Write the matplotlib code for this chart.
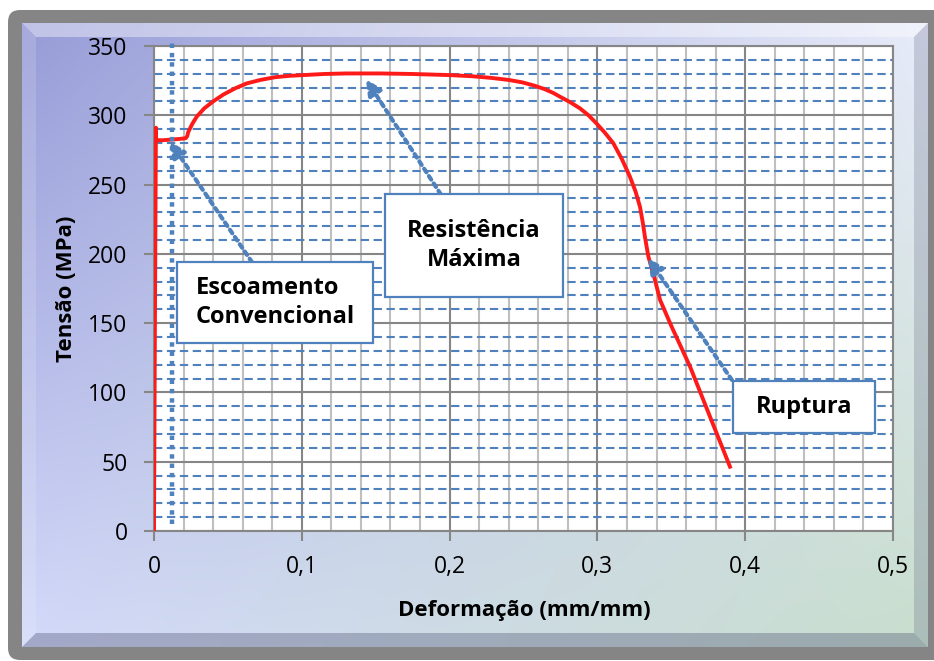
import numpy as np
import matplotlib
matplotlib.use("Agg")
import matplotlib.pyplot as plt
from matplotlib.patches import FancyBboxPatch, Rectangle, Polygon
from matplotlib.ticker import MultipleLocator

# ---------------- data ----------------
strain = [0.0, 0.0006, 0.0013, 0.0014, 0.0018, 0.006, 0.012, 0.018, 0.0215, 0.0225,
          0.0232, 0.026, 0.0289, 0.034, 0.040, 0.047, 0.055, 0.0627, 0.072, 0.082,
          0.092, 0.101, 0.115, 0.130, 0.153, 0.175, 0.200, 0.215, 0.228, 0.240,
          0.249, 0.257, 0.264, 0.270, 0.2747, 0.2815, 0.2882, 0.294, 0.2995, 0.305,
          0.3108, 0.3165, 0.322, 0.3258, 0.3288, 0.3308, 0.3322, 0.3335, 0.3345, 0.3385,
          0.3424, 0.350, 0.3627, 0.376, 0.3897]
stress = [0, 145, 291, 284, 282, 282, 282.5, 283, 283.5, 285,
          288, 294, 299, 305, 310, 315, 319.5, 323, 325.5, 327.5,
          328.5, 329, 329.8, 330.2, 330.2, 329.8, 329, 328.2, 327, 325.5,
          323.8, 321.5, 319, 316.2, 313.4, 309.5, 305, 300, 294, 287.5,
          279.8, 268.5, 255.7, 245, 234, 222, 212, 204, 198, 183,
          166.7, 148, 118.6, 83, 46.4]

xticks = [0, 0.1, 0.2, 0.3, 0.4, 0.5]
xtick_labels = ["0", "0,1", "0,2", "0,3", "0,4", "0,5"]
yticks = [0, 50, 100, 150, 200, 250, 300, 350]
ytick_labels = ["0", "50", "100", "150", "200", "250", "300", "350"]

xlabel = "Deformação (mm/mm)"
ylabel = "Tensão (MPa)"

# annotation texts
lbl_escoamento = "Escoamento\nConvencional"
lbl_resistencia = "Resistência\nMáxima"
lbl_ruptura = "Ruptura"

# ---------------- style ----------------
FONT = ["Open Sans", "DejaVu Sans"]
plt.rcParams["font.family"] = FONT
BLUE = "#4f81bd"
GRAY = "#868686"
LGRAY = "#bfbfbf"

W, H = 934, 661
fig = plt.figure(figsize=(W / 100, H / 100), dpi=100)
fig.patch.set_facecolor("white")

# background panel
bg = fig.add_axes([0, 0, 1, 1], zorder=-10)
bg.axis("off")
bg.add_patch(FancyBboxPatch((8, 10), 940, 650,
                            boxstyle="round,pad=0,rounding_size=12",
                            fc="#858585", ec="none", zorder=1))
L, R, T, B = 22, 928, 23, 647
ny, nx = B - T, R - L
u = np.linspace(0, 1, nx)[None, :, None]
v = np.linspace(0, 1, ny)[:, None, None]
TL = np.array([150, 155, 215]) / 255
TR = np.array([232, 236, 250]) / 255
BL = np.array([212, 218, 250]) / 255
BR = np.array([200, 222, 205]) / 255
img = (1 - u) * (1 - v) * TL + u * (1 - v) * TR + (1 - u) * v * BL + u * v * BR
bg.imshow(img, extent=(L, R, B, T), aspect="auto", interpolation="bilinear",
          zorder=2)
b = 14
bg.add_patch(Polygon([(L, T), (R, T), (R - b, T + b), (L + b, T + b)],
                     closed=True, fc="white", ec="none", alpha=0.40, zorder=3))
bg.add_patch(Polygon([(L, B), (R, B), (R - b, B - b), (L + b, B - b)],
                     closed=True, fc="#4a4f70", ec="none", alpha=0.35, zorder=3))
bg.add_patch(Polygon([(L, T), (L + b, T + b), (L + b, B - b), (L, B)],
                     closed=True, fc="white", ec="none", alpha=0.15, zorder=3))
bg.add_patch(Polygon([(R, T), (R - b, T + b), (R - b, B - b), (R, B)],
                     closed=True, fc="#4a4f70", ec="none", alpha=0.22, zorder=3))
bg.set_xlim(0, W)
bg.set_ylim(H, 0)

# main axes
x0, x1, y0, y1 = 154, 893, 46, 531
ax = fig.add_axes([x0 / W, (H - y1) / H, (x1 - x0) / W, (y1 - y0) / H], zorder=1)
ax.set_facecolor("white")
ax.set_xlim(0, 0.5)
ax.set_ylim(0, 350)
ax.set_xticks(xticks, labels=xtick_labels)
ax.set_yticks(yticks, labels=ytick_labels)
ax.xaxis.set_minor_locator(MultipleLocator(0.02))
ax.yaxis.set_minor_locator(MultipleLocator(10))
ax.tick_params(which="major", direction="out", length=7, width=1.5, color=GRAY,
               labelsize=16.5, labelcolor="black")
ax.tick_params(axis="y", which="major", pad=12)
ax.tick_params(axis="x", which="major", pad=10)
ax.tick_params(which="minor", length=0)
for s in ax.spines.values():
    s.set_color(GRAY)
    s.set_linewidth(1.5)
ax.set_axisbelow(True)
ax.grid(which="major", axis="both", color=GRAY, lw=1.5)
ax.grid(which="minor", axis="x", color=LGRAY, lw=1.5)
ax.grid(which="minor", axis="y", color=BLUE, lw=1.5, ls=(0, (4, 2.2)))

# curve
ax.plot(strain, stress, color="#ff1a1a", lw=2.8, solid_joinstyle="round", zorder=3)

# labels
ax.set_xlabel(xlabel, fontsize=16, fontweight="bold")
ax.set_ylabel(ylabel, fontsize=16, fontweight="bold")
ax.xaxis.label.set_va("center")
ax.yaxis.label.set_va("center")
ax.xaxis.set_label_coords(0.5007, -0.163)
ax.yaxis.set_label_coords(-0.119, 0.499)

# annotations
dot = (0, (1, 1.1))
ax.plot([0.0124, 0.0124], [5, 352], color=BLUE, lw=3.2, ls=dot,
        dash_capstyle="butt", clip_on=False, zorder=4)

def arrow(tail, tip):
    ax.annotate("", xy=tip, xytext=tail,
                arrowprops=dict(arrowstyle="-|>,head_length=0.9,head_width=0.45",
                                color=BLUE, lw=3.0, ls=dot,
                                shrinkA=0, shrinkB=0),
                zorder=4)

arrow((0.0663, 194), (0.0108, 281))
arrow((0.194, 243), (0.1434, 326))
arrow((0.391, 109), (0.3342, 197))

def box(xa, xb, ya, yb, text, ma):
    ax.add_patch(Rectangle((xa, ya), xb - xa, yb - ya, fc="white", ec=BLUE,
                           lw=1.6, zorder=5))
    ax.text((xa + xb) / 2, (ya + yb) / 2, text, ha="center", va="center",
            multialignment=ma, fontsize=17, fontweight="bold", zorder=6,
            linespacing=1.3)

box(0.0156, 0.1482, 135.6, 194.0, lbl_escoamento, "left")
box(0.1563, 0.2767, 168.8, 243.1, lbl_resistencia, "center")
box(0.3917, 0.4878, 70.7, 108.2, lbl_ruptura, "center")

fig.savefig("out.png", dpi=100, facecolor=fig.get_facecolor())
